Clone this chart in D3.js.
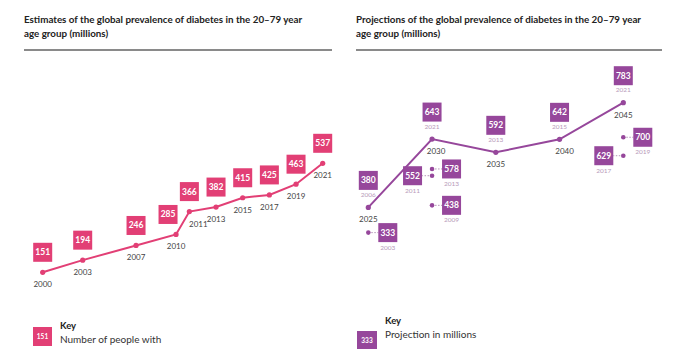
<!DOCTYPE html>
<html>
<head>
<meta charset="utf-8">
<script src="https://cdn.jsdelivr.net/npm/d3@7"></script>
<style>
  body { margin: 0; background: #fff; }
  svg { display: block; font-family: Lato, "Open Sans", sans-serif; }
</style>
</head>
<body>
<div id="chart"></div>
<script>
// Estimates (left panel)
const estYears = [2000, 2003, 2007, 2010, 2011, 2013, 2015, 2017, 2019, 2021];
const estValues = [151, 194, 246, 285, 366, 382, 415, 425, 463, 537];

// Projections (right panel), main line
const projYears = [2025, 2030, 2035, 2040, 2045];
const projValues = [380, 643, 592, 642, 783];
const projEditions = ["2006", "2021", "2013", "2015", "2021"];

// Projections from other editions, shown beside the main points
const sideYears = [2025, 2030, 2030, 2030, 2045, 2045];
const sideValues = [333, 578, 552, 438, 700, 629];
const sideEditions = ["2003", "2013", "2011", "2009", "2019", "2017"];

(function(){
    const W = 700, H = 350;
    const pink = "#e23f75";
    const purple = "#96479b";
    const box = 19;

    const svg = d3.select("#chart").append("svg")
        .attr("width", W)
        .attr("height", H);

    // ---- titles and rules
    function header(x0, x1, lines) {
        const t = svg.append("text")
            .attr("x", x0).attr("y", 22.5)
            .attr("font-size", 9.8)
            .attr("font-weight", "bold")
            .attr("fill", "#222");
        lines.forEach((l, i) => t.append("tspan").attr("x", x0).attr("dy", i ? 14 : 0).text(l));
        svg.append("line")
            .attr("x1", x0).attr("x2", x1)
            .attr("y1", 50).attr("y2", 50)
            .attr("stroke", "#8a8a8a").attr("stroke-width", 2);
    }
    header(24, 332, ["Estimates of the global prevalence of diabetes in the 20\u201379 year", "age group (millions)"]);
    header(356, 662, ["Projections of the global prevalence of diabetes in the 20\u201379 year", "age group (millions)"]);

    function valueBox(g, cx, cy, value, color) {
        g.append("rect")
            .attr("x", cx - box / 2).attr("y", cy - box / 2)
            .attr("width", box).attr("height", box)
            .attr("fill", color);
        g.append("text")
            .attr("x", cx).attr("y", cy + 3)
            .attr("text-anchor", "middle")
            .attr("font-size", 8.5)
            .attr("font-weight", "bold")
            .attr("fill", "#fff")
            .text(value);
    }

    // ---- left panel: estimates
    const xL = d3.scaleLinear().domain([2000, 2021]).range([42.7, 322.7]);
    const yL = d3.scaleLinear().domain([151, 537]).range([272.3, 163.3]);
    const est = estYears.map((d, i) => ({ year: d, value: estValues[i] }));

    const left = svg.append("g");
    left.append("path")
        .datum(est)
        .attr("d", d3.line().x(d => xL(d.year)).y(d => yL(d.value)))
        .attr("fill", "none")
        .attr("stroke", pink)
        .attr("stroke-width", 2);

    left.selectAll("circle")
        .data(est)
        .join("circle")
        .attr("cx", d => xL(d.year))
        .attr("cy", d => yL(d.value))
        .attr("r", 2.6)
        .attr("fill", pink);

    const boxNudge = { 2010: -8 };
    const yearNudge = { 2011: 9 };
    est.forEach(d => {
        const cx = xL(d.year), cy = yL(d.value);
        valueBox(left, cx + (boxNudge[d.year] || 0), cy - 20, d.value, pink);
        left.append("text")
            .attr("x", cx + (yearNudge[d.year] || 0)).attr("y", cy + 15)
            .attr("text-anchor", "middle")
            .attr("font-size", 8)
            .attr("fill", "#444")
            .text(d.year);
    });

    // ---- right panel: projections
    const xR = d3.scaleLinear().domain([2025, 2045]).range([368.3, 623.3]);
    const yR = d3.scaleLinear().domain([380, 783]).range([207.4, 102.7]);
    // side projections sit a little below the main scale
    const ySide = yR.copy().range(yR.range().map(v => v + 13));

    const proj = projYears.map((d, i) => ({ year: d, value: projValues[i], ed: projEditions[i] }));
    const side = sideYears.map((d, i) => ({ year: d, value: sideValues[i], ed: sideEditions[i] }));

    const right = svg.append("g");
    right.append("path")
        .datum(proj)
        .attr("d", d3.line().x(d => xR(d.year)).y(d => yR(d.value)))
        .attr("fill", "none")
        .attr("stroke", purple)
        .attr("stroke-width", 2);

    right.selectAll("circle.main")
        .data(proj)
        .join("circle")
        .attr("class", "main")
        .attr("cx", d => xR(d.year))
        .attr("cy", d => yR(d.value))
        .attr("r", 2.6)
        .attr("fill", purple);

    proj.forEach(d => {
        const cx = xR(d.year), cy = yR(d.value);
        valueBox(right, cx, cy - 27, d.value, purple);
        right.append("text")
            .attr("x", cx).attr("y", cy - 10.5)
            .attr("text-anchor", "middle")
            .attr("font-size", 6.5)
            .attr("fill", "#b79ab9")
            .text(d.ed);
        right.append("text")
            .attr("x", cx + (d.year === 2030 ? 4 : d.year === 2040 ? 5 : 0)).attr("y", cy + 15)
            .attr("text-anchor", "middle")
            .attr("font-size", 8)
            .attr("fill", "#444")
            .text(d.year);
    });

    const leftSide = new Set(["2011", "2017"]);
    side.forEach(d => {
        const px = xR(d.year), py = ySide(d.value);
        const dir = leftSide.has(d.ed) ? -1 : 1;
        const cx = px + dir * 19.5;
        right.append("line")
            .attr("x1", px).attr("x2", cx - dir * box / 2)
            .attr("y1", py).attr("y2", py)
            .attr("stroke", "#a27aa6")
            .attr("stroke-width", 0.8)
            .attr("stroke-dasharray", "1.5,1.5");
        right.append("circle")
            .attr("cx", px).attr("cy", py)
            .attr("r", 2.3)
            .attr("fill", purple);
        valueBox(right, cx, py, d.value, purple);
        right.append("text")
            .attr("x", cx).attr("y", py + box / 2 + 7.5)
            .attr("text-anchor", "middle")
            .attr("font-size", 6.5)
            .attr("fill", "#b79ab9")
            .text(d.ed);
    });

    // ---- keys
    function key(x, y, bw, bh, label, color, tx, ty, text) {
        svg.append("rect")
            .attr("x", x).attr("y", y)
            .attr("width", bw).attr("height", bh)
            .attr("fill", color);
        svg.append("text")
            .attr("x", x + bw / 2).attr("y", y + bh / 2 + 2.5)
            .attr("text-anchor", "middle")
            .attr("font-size", 6.5)
            .attr("font-weight", "bold")
            .attr("fill", "#fff")
            .text(label);
        svg.append("text")
            .attr("x", tx).attr("y", ty)
            .attr("font-size", 9.5)
            .attr("font-weight", "bold")
            .attr("fill", "#222")
            .text("Key");
        svg.append("text")
            .attr("x", tx).attr("y", ty + 14)
            .attr("font-size", 10)
            .attr("fill", "#333")
            .text(text);
    }
    key(33, 327, 19, 19, estValues[0], pink, 60, 329, "Number of people with");
    key(357, 331, 20, 18, sideValues[0], purple, 385, 324, "Projection in millions");
})();
</script>
</body>
</html>
